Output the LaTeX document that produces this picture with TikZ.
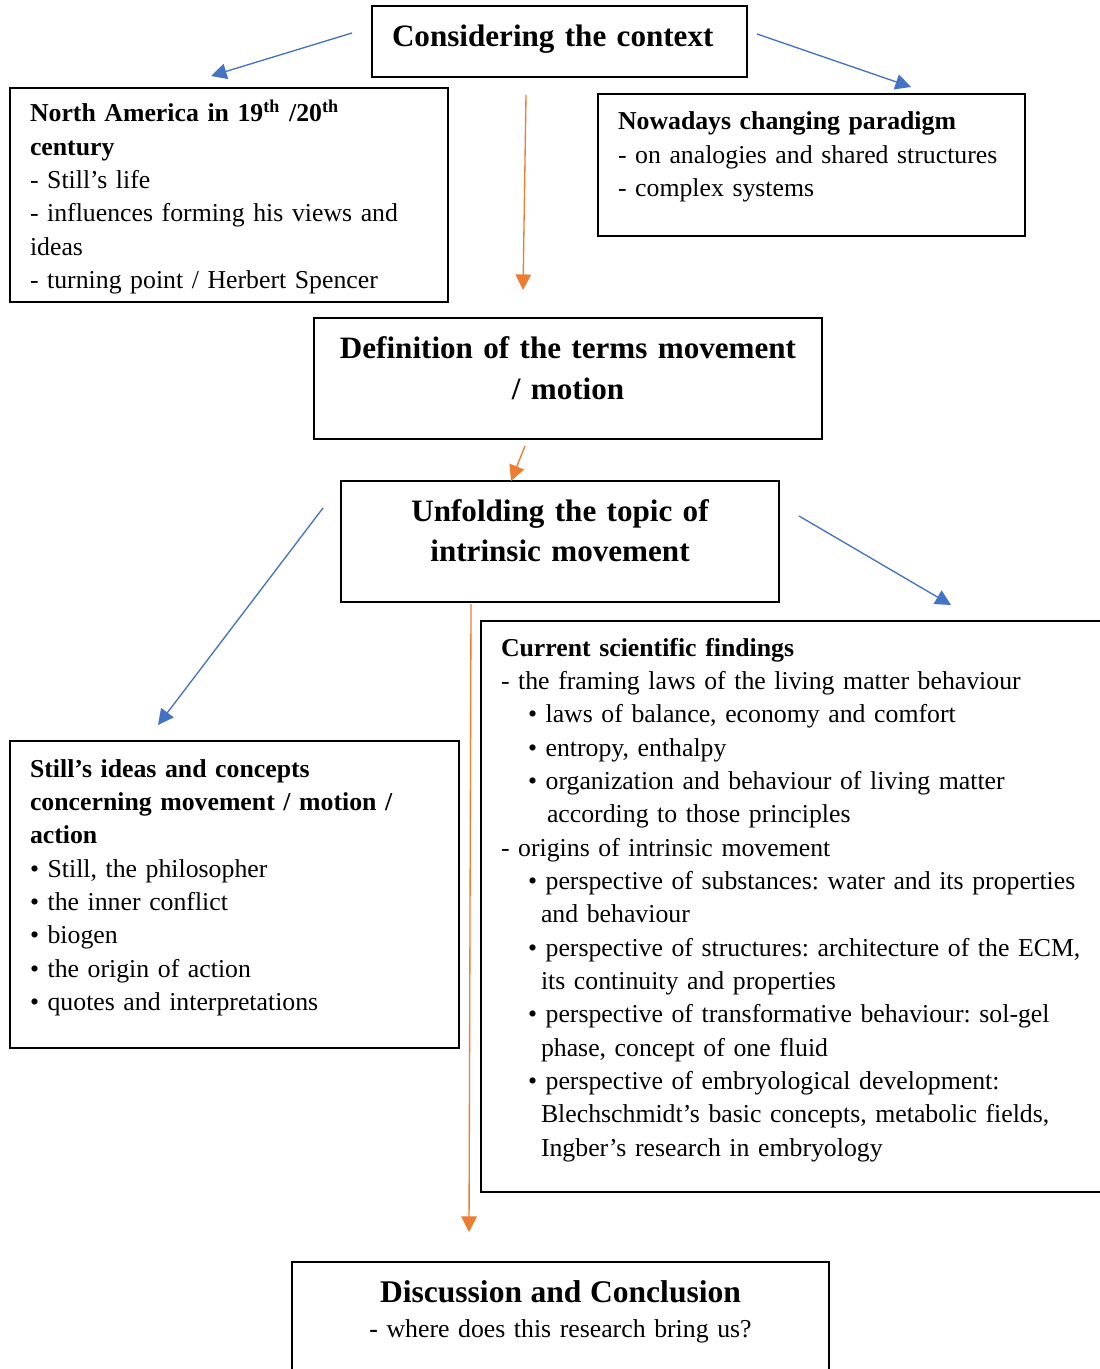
\documentclass[tikz,border=0pt]{standalone}
\usepackage{fontspec}
\setmainfont{Liberation Serif}
\usetikzlibrary{arrows.meta}
\definecolor{arrowblue}{HTML}{4472C4}
\definecolor{arroworange}{HTML}{ED7D31}
\hyphenpenalty=10000
\exhyphenpenalty=10000
\frenchspacing

\begin{document}
\begin{tikzpicture}[
    x=0.45pt, y=-0.45pt,
    box/.style={rectangle, draw=black, line width=0.9pt, anchor=north west, inner ysep=0pt, inner xsep=9pt, align=left, font=\fontsize{11.6}{15}\selectfont},
    headbox/.style={box, inner xsep=9pt, align=center, font=\fontsize{14}{18}\selectfont\bfseries},
    bluearrow/.style={-{Triangle[length=7pt,width=7pt]}, draw=arrowblue, line width=0.6pt},
    orangearrow/.style={-{Triangle[length=7pt,width=7pt]}, draw=arroworange, line width=0.6pt}
]
\useasboundingbox (0,0) rectangle (1099,1369);

% Context
\node[headbox, align=left, text width=150.75pt, text height=18.45pt, text depth=13.5pt] (context) at (371,5) {
    Considering the context
};

\node[box, text width=179.1pt, text height=15.3pt, text depth=81pt] (america) at (9,87) {
    \textbf{North America in 19\textsuperscript{th} /20\textsuperscript{th}}\\
    \textbf{century}\\
    - Still’s life\\
    - influences forming his views and\\
    ideas\\
    - turning point / Herbert Spencer
};

\node[box, text width=174.15pt, text height=16.2pt, text depth=47.7pt] (paradigm) at (597,93) {
    \textbf{Nowadays changing paradigm}\\
    - on analogies and shared structures\\
    - complex systems
};

% Definition and topic
\node[headbox, text width=210.6pt, text height=18.45pt, text depth=36pt] (definition) at (313,317) {
    Definition of the terms movement\\
    / motion
};

\node[headbox, text width=179.1pt, text height=18pt, text depth=36.45pt] (unfolding) at (340,480) {
    Unfolding the topic of\\
    intrinsic movement
};

% Still and findings
\node[box, text width=184.05pt, text height=16.2pt, text depth=121.95pt] (still) at (9,740) {
    \textbf{Still’s ideas and concepts}\\
    \textbf{concerning movement / motion /}\\
    \textbf{action}\\
    • Still, the philosopher\\
    • the inner conflict\\
    • biogen\\
    • the origin of action\\
    • quotes and interpretations
};

\node[box, text width=274.5pt, text height=15.75pt, text depth=241.2pt] (findings) at (480,620) {
    \textbf{Current scientific findings}\\
    - the framing laws of the living matter behaviour\\
    \hspace*{12.15pt}• laws of balance, economy and comfort\\
    \hspace*{12.15pt}• entropy, enthalpy\\
    \hspace*{12.15pt}• organization and behaviour of living matter\\
    \hspace*{20.7pt}according to those principles\\
    - origins of intrinsic movement\\
    \hspace*{12.15pt}• perspective of substances: water and its properties\\
    \hspace*{18pt}and behaviour\\
    \hspace*{12.15pt}• perspective of structures: architecture of the ECM,\\
    \hspace*{18pt}its continuity and properties\\
    \hspace*{12.15pt}• perspective of transformative behaviour: sol-gel\\
    \hspace*{18pt}phase, concept of one fluid\\
    \hspace*{12.15pt}• perspective of embryological development:\\
    \hspace*{18pt}Blechschmidt’s basic concepts, metabolic fields,\\
    \hspace*{18pt}Ingber’s research in embryology
};

% Conclusion
\node[box, align=center, font=\fontsize{11.6}{15.75}\selectfont, text width=223.65pt, text height=18pt, text depth=35.55pt] (conclusion) at (291,1261) {
    {\fontsize{14.2}{15.75}\selectfont\bfseries Discussion and Conclusion}\\
    \textbf{-} where does this research bring us?
};

% Arrows
\draw[bluearrow] ([shift={(-19,-8.5)}]context.west) -- ([shift={(-18,-11)}]america.north);
\draw[bluearrow] ([shift={(9,-7.5)}]context.east) -- ([shift={(99.5,-6)}]paradigm.north);
\draw[orangearrow] ([shift={(-33.5,17)}]context.south) -- ([shift={(-45,-27)}]definition.north);
\draw[orangearrow] ([shift={(-43,6)}]definition.south) -- ([shift={(-49,1)}]unfolding.north);
\draw[bluearrow] ([shift={(-17,-33.5)}]unfolding.west) -- ([shift={(-76.5,-15)}]still.north);
\draw[bluearrow] ([shift={(19,-25.5)}]unfolding.east) -- ([shift={(471,-15)}]findings.north west);
\draw[orangearrow] ([shift={(-89,1)}]unfolding.south) -- ([shift={(-91.5,-29)}]conclusion.north);
\end{tikzpicture}
\end{document}
